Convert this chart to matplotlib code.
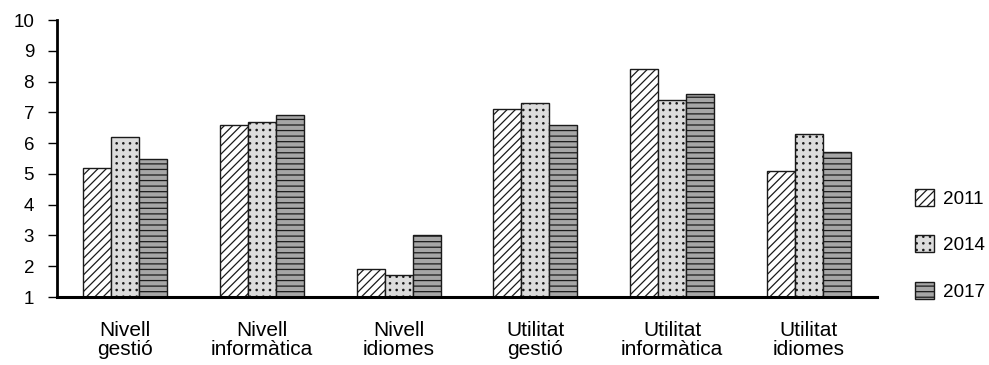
import numpy as np
import matplotlib.pyplot as plt
from matplotlib import hatch as mhatch
from matplotlib.path import Path

plt.rcParams['font.family'] = ['Liberation Sans', 'DejaVu Sans']
plt.rcParams['hatch.linewidth'] = 0.9

# Data
categories = ['Nivell\ngestió', 'Nivell\ninformàtica', 'Nivell\nidiomes',
              'Utilitat\ngestió', 'Utilitat\ninformàtica', 'Utilitat\nidiomes']
years = ['2011', '2014', '2017']
vals_2011 = [5.2, 6.6, 1.9, 7.1, 8.4, 5.1]
vals_2014 = [6.2, 6.7, 1.7, 7.3, 7.4, 6.3]
vals_2017 = [5.5, 6.9, 3.0, 6.6, 7.6, 5.7]


# dots on a straight grid instead of matplotlib's staggered rows
class GridDots(mhatch.Shapes):
    filled = True
    size = 0.1

    def __init__(self, hatch, density):
        self.num_rows = hatch.count('.') * 5
        path = Path.unit_circle()
        self.shape_vertices = path.vertices
        self.shape_codes = path.codes
        self.num_shapes = self.num_rows ** 2
        self.num_vertices = self.num_shapes * len(self.shape_vertices)

    def set_vertices_and_codes(self, vertices, codes):
        step = 1.0 / self.num_rows
        sv = self.shape_vertices * step * self.size
        nv = len(sv)
        k = 0
        for i in range(self.num_rows):
            for j in range(self.num_rows):
                vertices[k:k + nv] = sv + ((j + 0.5) * step, (i + 0.5) * step)
                codes[k:k + nv] = self.shape_codes
                k += nv


mhatch._hatch_types = [GridDots if t is mhatch.SmallFilledCircles else t
                       for t in mhatch._hatch_types]

fig = plt.figure(figsize=(9.89, 3.65), dpi=100)
ax = fig.add_axes([0.0576, 0.1863, 0.8292, 0.7589])

x = np.arange(len(categories))
w = 0.205
styles = [('white', '////'), ('#dcdcdc', '...'), ('#a6a6a6', '---')]
series = [vals_2011, vals_2014, vals_2017]

for i, (vals, yr) in enumerate(zip(series, years)):
    fc, hatch = styles[i]
    # bars start at the baseline 1
    ax.bar(x + (i - 1) * w, np.array(vals) - 1, width=w, bottom=1,
           color=fc, edgecolor='#1a1a1a', hatch=hatch, linewidth=1.0, label=yr)

ax.set_xlim(-0.5, 5.5)
ax.set_ylim(1, 10)
ax.set_yticks(range(1, 11))
ax.set_xticks(x)
ax.set_xticklabels(categories, fontsize=15, linespacing=1.05)

for side in ['top', 'right']:
    ax.spines[side].set_visible(False)
ax.spines['left'].set_linewidth(2)
ax.spines['bottom'].set_linewidth(2.2)
ax.tick_params(axis='y', length=6.5, width=1, pad=10, labelsize=13.5)
ax.tick_params(axis='x', length=0, pad=17)

fig.legend(loc='center left', bbox_to_anchor=(0.925, 0.329), frameon=False,
           fontsize=13.6, handlelength=1.0, handleheight=1.0, labelspacing=1.45,
           handletextpad=0.5, borderpad=0, borderaxespad=0)

plt.savefig('out.png', dpi=100)
